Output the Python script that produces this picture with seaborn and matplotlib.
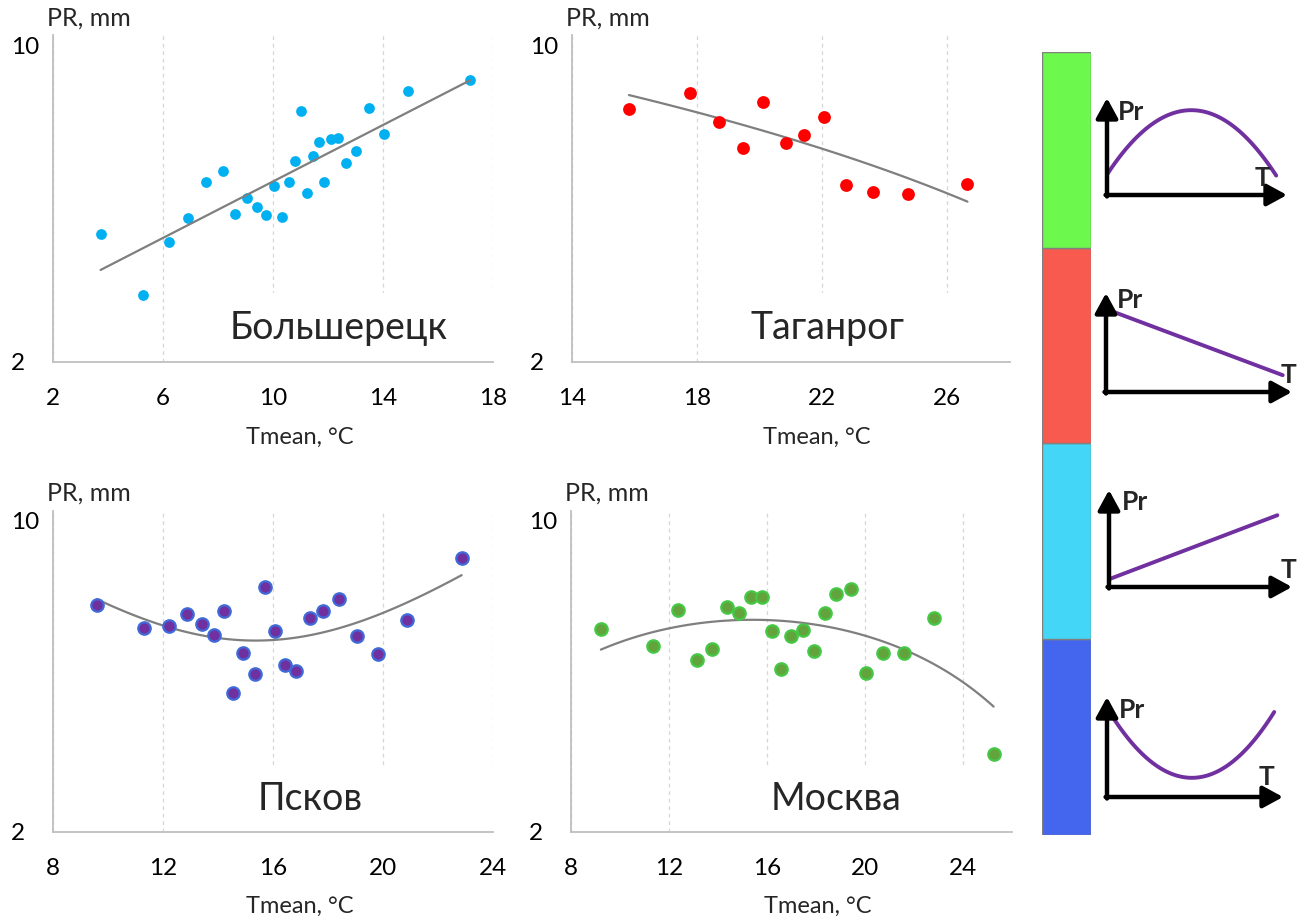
import numpy as np
import pandas as pd
import matplotlib
matplotlib.use("Agg")
import matplotlib.pyplot as plt
import seaborn as sns
from matplotlib.patches import Rectangle
from matplotlib.ticker import FixedLocator, FixedFormatter, NullLocator

# ---------------- data ----------------
bol_t = [3.73, 5.26, 6.21, 6.92, 7.56, 8.17, 8.63, 9.04, 9.41, 9.75, 10.05, 10.33, 10.57, 10.80,
         11.00, 11.24, 11.44, 11.68, 11.87, 12.11, 12.35, 12.65, 13.03, 13.50, 14.04, 14.92, 17.17]
bol_pr = [3.83, 2.81, 3.67, 4.15, 4.99, 5.28, 4.25, 4.60, 4.40, 4.22, 4.88, 4.17, 4.99, 5.56,
          7.16, 4.72, 5.68, 6.10, 4.99, 6.20, 6.25, 5.48, 5.85, 7.26, 6.37, 7.90, 8.39]

tag_t = [15.82, 17.76, 18.70, 19.46, 20.12, 20.83, 21.41, 22.04, 22.75, 23.62, 24.73, 26.64]
tag_pr = [7.24, 7.84, 6.78, 5.94, 7.47, 6.08, 6.32, 6.94, 4.91, 4.74, 4.70, 4.93]

psk_t = [9.59, 11.31, 12.23, 12.87, 13.41, 13.85, 14.22, 14.56, 14.90, 15.33, 15.71, 16.07,
         16.45, 16.85, 17.33, 17.83, 18.41, 19.04, 19.81, 20.87, 22.86]
psk_pr = [6.44, 5.74, 5.80, 6.16, 5.85, 5.52, 6.25, 4.10, 5.04, 4.52, 7.08, 5.65,
          4.74, 4.60, 6.04, 6.25, 6.65, 5.49, 5.01, 5.96, 8.21]

msk_t = [9.22, 11.36, 12.38, 13.14, 13.77, 14.38, 14.87, 15.36, 15.80, 16.20, 16.58, 16.99,
         17.48, 17.93, 18.38, 18.80, 19.41, 20.05, 20.73, 21.58, 22.83, 25.25]
msk_pr = [5.71, 5.21, 6.28, 4.85, 5.14, 6.40, 6.19, 6.71, 6.71, 5.65, 4.64, 5.50,
          5.68, 5.08, 6.19, 6.82, 7.00, 4.54, 5.04, 5.03, 6.02, 2.99]

station_names = ["Большерецк", "Таганрог", "Псков", "Москва"]
y_ticks = [2, 10]
y_tick_labels = ["2", "10"]

# legend bar (bottom to top) and schematic curves
bar_colors = ["#4466EE", "#44D6F6", "#F95A50", "#6CF84C"]
bar_segments = [1, 1, 1, 1]

sch1_x = [0.0, 0.43, 0.94]
sch1_y = [0.21, 0.87, 0.20]
sch2_x = [0.04, 0.95]
sch2_y = [0.81, 0.17]
sch3_x = [0.0, 0.92]
sch3_y = [0.08, 0.74]
sch4_x = [0.0, 0.43, 0.95]
sch4_y = [0.89, 0.20, 0.85]

# ---------------- style ----------------
sns.set_style("white")
plt.rcParams["font.family"] = ["Lato", "DejaVu Sans"]

W, H = 1297, 919
fig = plt.figure(figsize=(W / 100, H / 100), dpi=100)
Y_LO, Y_HI = 2, 10.5


def px_axes(left, bottom, width, height):
    return fig.add_axes([left / W, 1 - bottom / H, width / W, height / H])


def panel(rect, t, pr, trend, color, edge, elw, size, xlim, xticks, name, name_x):
    ax = px_axes(*rect)
    df = pd.DataFrame({"t": t, "pr": pr})
    ax.set_yscale("log")
    line_kws = dict(lw=1.6)
    if trend == "exp":
        # exponential trend: straight line in log space, drawn on a twin axis in log10 units
        ax2 = ax.twinx()
        df["log_pr"] = np.log10(df["pr"])
        sns.regplot(data=df, x="t", y="log_pr", order=1, scatter=False, ci=None, truncate=True,
                    color="#7F7F7F", line_kws=line_kws, ax=ax2)
        ax2.set_ylim(np.log10(Y_LO), np.log10(Y_HI))
        ax2.set_xlim(*xlim)
        ax2.axis("off")
    else:
        sns.regplot(data=df, x="t", y="pr", order=trend, scatter=False, ci=None, truncate=True,
                    color="#7F7F7F", line_kws=dict(lw=1.6, zorder=2), ax=ax)
    sns.scatterplot(data=df, x="t", y="pr", color=color, edgecolor=edge, linewidth=elw,
                    s=size, ax=ax, zorder=3, legend=False)
    ax.set_xlim(*xlim)
    ax.set_ylim(Y_LO, Y_HI)
    ax.set_xticks(xticks)
    ax.set_xticklabels([str(v) for v in xticks])
    ax.yaxis.set_major_locator(FixedLocator(y_ticks))
    ax.yaxis.set_major_formatter(FixedFormatter(y_tick_labels))
    ax.yaxis.set_minor_locator(NullLocator())
    ax.tick_params(axis="both", length=0, labelsize=17.5, colors="#000000")
    ax.tick_params(axis="x", pad=19)
    ax.tick_params(axis="y", pad=30)
    for lab in ax.get_yticklabels():
        lab.set_ha("left")
    ax.grid(axis="x", color="#D6D6D6", linestyle=(0, (3, 3)), lw=0.9)
    ax.grid(axis="y", visible=False)
    ax.set_axisbelow(True)
    for s in ["top", "right"]:
        ax.spines[s].set_visible(False)
    for s in ["left", "bottom"]:
        ax.spines[s].set_color("#BFBFBF")
        ax.spines[s].set_linewidth(1.3)
    ax.add_patch(Rectangle((0.40, 0.0), 0.62, 0.21, transform=ax.transAxes,
                           facecolor="white", edgecolor="none", zorder=1.5, clip_on=False))
    ax.text(name_x, 0.07, name, transform=ax.transAxes, ha="center", va="baseline",
            fontsize=27, zorder=4)
    ax.set_xlabel("Tmean, °C", fontsize=17)
    ax.xaxis.set_label_coords(0.56, -0.20)
    ax.set_ylabel("")
    ax.text(-0.014, 1.053, "PR, mm", transform=ax.transAxes, ha="left", va="center",
            fontsize=18)
    return ax


panel((53, 362, 440, 326.6), bol_t, bol_pr, "exp", "#00B0F0", "#00B0F0", 0, 60,
      (2, 18), [2, 6, 10, 14, 18], station_names[0], 0.65)
panel((572, 362, 438, 326.6), tag_t, tag_pr, 1, "#FF0000", "#FF0000", 0, 85,
      (14, 28), [14, 18, 22, 26], station_names[1], 0.584)
panel((53, 832, 440, 321.4), psk_t, psk_pr, 2, "#7030A0", "#3F6AD8", 1.6, 80,
      (8, 24), [8, 12, 16, 20, 24], station_names[2], 0.584)
panel((571, 832, 441, 321.4), msk_t, msk_pr, 2, "#62A33C", "#45C845", 1.6, 80,
      (8, 26), [8, 12, 16, 20, 24], station_names[3], 0.60)

# ---------------- colour bar ----------------
bax = px_axes(1042, 835, 49, 783.3)
bottoms = np.cumsum([0] + bar_segments[:-1])
bax.bar([0] * len(bar_segments), bar_segments, bottom=bottoms, width=1.0,
        color=bar_colors, edgecolor="#808080", linewidth=1.0)
bax.set_xlim(-0.5, 0.5)
bax.set_ylim(0, sum(bar_segments))
bax.axis("off")

# ---------------- schematics ----------------
schemes = [
    ((1107, 195, 1287, 98), sch1_x, sch1_y, 2, (0.06, 0.86), (0.82, 0.18), "left"),
    ((1106, 392, 1292, 293), sch2_x, sch2_y, 1, (0.06, 0.93), ((1296 - 1106) / 186, 0.17), "right"),
    ((1109, 587, 1292, 490), sch3_x, sch3_y, 1, (0.07, 0.88), ((1296 - 1109) / 183, 0.18), "right"),
    ((1107, 797, 1283, 697), sch4_x, sch4_y, 2, (0.07, 0.87), (0.86, 0.20), "left"),
]
for (ox, oy, xe, yt), sx, sy, order, pr_pos, t_pos, t_ha in schemes:
    sax = px_axes(ox, oy, xe - ox, oy - yt)
    sax.set_xlim(0, 1)
    sax.set_ylim(0, 1)
    sax.axis("off")
    arrow = dict(arrowstyle="-|>,head_length=0.55,head_width=0.3", lw=3.2, color="black",
                 shrinkA=0, shrinkB=0, mutation_scale=22)
    sax.annotate("", xy=(0, 1), xytext=(0, -0.015), xycoords="axes fraction", arrowprops=arrow)
    sax.annotate("", xy=(1, 0), xytext=(-0.008, 0), xycoords="axes fraction", arrowprops=arrow)
    sdf = pd.DataFrame({"x": sx, "y": sy})
    if order == 2:
        sns.regplot(data=sdf, x="x", y="y", order=2, scatter=False, ci=None, truncate=True,
                    color="#7030A0", line_kws=dict(lw=2.8, solid_capstyle="round"), ax=sax)
    else:
        sns.lineplot(data=sdf, x="x", y="y", color="#7030A0", lw=2.8, ax=sax,
                     solid_capstyle="round")
    for ln in sax.lines:
        ln.set_clip_on(False)
    sax.set_xlim(0, 1)
    sax.set_ylim(0, 1)
    sax.set_xlabel("")
    sax.set_ylabel("")
    sax.text(pr_pos[0], pr_pos[1], "Pr", transform=sax.transAxes, ha="left", va="center",
             fontsize=19, fontweight="bold", clip_on=False)
    sax.text(t_pos[0], t_pos[1], "T", transform=sax.transAxes, ha=t_ha, va="center",
             fontsize=19, fontweight="bold", clip_on=False)

fig.savefig("out.png", dpi=100, facecolor="white")
